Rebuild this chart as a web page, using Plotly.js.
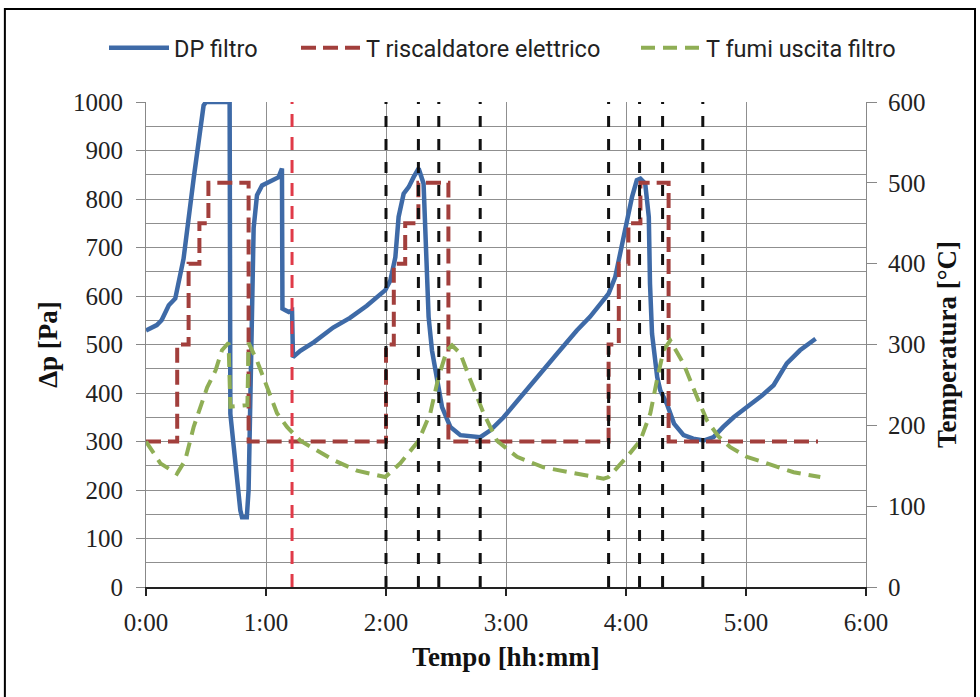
<!DOCTYPE html>
<html>
<head>
<meta charset="utf-8">
<script src="https://cdn.plot.ly/plotly-3.0.1.min.js"></script>
<style>html,body{margin:0;padding:0;background:#fff;}#chart{width:980px;height:697px;}</style>
</head>
<body>
<div id="chart"></div>
<script>
// ---- data (time in hours) ----
const hourTicks = [0, 1, 2, 3, 4, 5, 6];
const hourLabels = ['0:00', '1:00', '2:00', '3:00', '4:00', '5:00', '6:00'];

// DP filtro [Pa]
const timeDP = [0, 0.09, 0.13, 0.19, 0.244, 0.313, 0.397, 0.438, 0.48, 0.5, 0.697, 0.703, 0.73, 0.758, 0.786, 0.80, 0.84, 0.855, 0.87, 0.883, 0.897, 0.925, 0.967, 1.05, 1.105, 1.133, 1.137, 1.19, 1.217, 1.225, 1.286, 1.4, 1.56, 1.7, 1.84, 1.994, 2.036, 2.078, 2.105, 2.147, 2.19, 2.23, 2.272, 2.313, 2.33, 2.355, 2.383, 2.425, 2.467, 2.536, 2.62, 2.786, 2.87, 2.98, 3.12, 3.26, 3.425, 3.59, 3.70, 3.81, 3.855, 3.91, 3.967, 4.008, 4.05, 4.09, 4.12, 4.16, 4.19, 4.2, 4.217, 4.26, 4.286, 4.34, 4.40, 4.48, 4.56, 4.647, 4.73, 4.81, 4.897, 5.008, 5.12, 5.23, 5.34, 5.45, 5.58];
const dpFiltro = [529, 540, 550, 581, 595, 677, 842, 924, 993, 1000, 1000, 357, 289, 206, 158, 144, 144, 200, 380, 533, 740, 808, 828, 838, 845, 863, 574, 567, 570, 474, 487, 505, 535, 555, 580, 612, 632, 680, 763, 811, 825, 845, 863, 832, 694, 557, 488, 426, 371, 330, 313, 309, 323, 350, 392, 433, 481, 529, 557, 591, 605, 639, 708, 763, 804, 839, 842, 832, 763, 625, 522, 433, 405, 378, 337, 313, 306, 302, 309, 330, 350, 371, 392, 416, 461, 488, 512];

// T riscaldatore elettrico [°C]
const timeHeater = [0, 0.26, 0.26, 0.355, 0.355, 0.445, 0.445, 0.52, 0.52, 0.855, 0.855, 2.0, 2.0, 2.065, 2.065, 2.16, 2.16, 2.27, 2.27, 2.52, 2.52, 3.855, 3.855, 3.94, 3.94, 4.02, 4.02, 4.12, 4.12, 4.355, 4.355, 5.6];
const tHeater = [180, 180, 300, 300, 400, 400, 450, 450, 500, 500, 180, 180, 300, 300, 400, 400, 450, 450, 500, 500, 180, 180, 300, 300, 400, 400, 450, 450, 500, 500, 180, 180];

// T fumi uscita filtro [°C]
const timeGas = [0, 0.12, 0.258, 0.327, 0.397, 0.453, 0.51, 0.58, 0.633, 0.688, 0.703, 0.845, 0.855, 0.925, 1.008, 1.092, 1.175, 1.286, 1.563, 1.758, 1.994, 2.119, 2.272, 2.369, 2.438, 2.508, 2.55, 2.619, 2.703, 2.813, 2.925, 3.092, 3.313, 3.592, 3.813, 3.855, 4.008, 4.119, 4.203, 4.258, 4.313, 4.369, 4.48, 4.592, 4.675, 4.772, 4.869, 5.008, 5.203, 5.397, 5.619];
const tGas = [180, 153, 140, 157, 198, 221, 247, 268, 293, 302, 223, 225, 302, 280, 247, 215, 198, 181, 157, 144, 136, 153, 181, 215, 260, 293, 299, 289, 256, 215, 181, 161, 148, 140, 134, 136, 161, 181, 215, 256, 293, 305, 276, 235, 206, 186, 173, 161, 151, 142, 136];

// vertical reference lines
const eventTimes = [2.0, 2.27, 2.44, 2.785, 3.855, 4.113, 4.305, 4.64];
const heaterOffTimes = [1.217];

const seriesNames = ['DP filtro', 'T riscaldatore elettrico', 'T fumi uscita filtro'];

// ---- styling ----
const serif = 'Liberation Serif, Times New Roman, serif';
const gridC = '#8f8f8f';

const traces = [
  {x: timeDP, y: dpFiltro, name: seriesNames[0], type: 'scatter', mode: 'lines', yaxis: 'y',
   line: {color: '#3e6aa7', width: 4.5}, legendwidth: 117},
  {x: timeHeater, y: tHeater, name: seriesNames[1], type: 'scatter', mode: 'lines', yaxis: 'y2',
   line: {color: '#a23f3c', width: 4, dash: '15px,7px'}, legendwidth: 265},
  {x: timeGas, y: tGas, name: seriesNames[2], type: 'scatter', mode: 'lines', yaxis: 'y2',
   line: {color: '#8fae55', width: 4, dash: '14px,8px'}}
];

const shapes = [];
eventTimes.forEach(t => shapes.push({type: 'line', xref: 'x', yref: 'y', x0: t, x1: t, y0: 0, y1: 1000,
  line: {color: '#111', width: 3, dash: '11px,12px'}, layer: 'above'}));
heaterOffTimes.forEach(t => shapes.push({type: 'line', xref: 'x', yref: 'y', x0: t, x1: t, y0: 0, y1: 1000,
  line: {color: '#e03a48', width: 3, dash: '13px,10px'}, layer: 'above'}));
// outer frame
shapes.push({type: 'rect', xref: 'paper', yref: 'paper', x0: -0.196, x1: 1.1514, y0: -0.3, y1: 1.1918,
  line: {color: '#000', width: 2}, fillcolor: 'rgba(0,0,0,0)', layer: 'below'});

const layout = {
  width: 980, height: 697,
  margin: {l: 146, r: 114, t: 102, b: 110},
  paper_bgcolor: '#fff', plot_bgcolor: '#fff',
  showlegend: true,
  legend: {orientation: 'h', xref: 'paper', yref: 'paper', x: (104 - 146) / 720, xanchor: 'left',
           y: (587 - 26) / 485, yanchor: 'top', itemwidth: 60, bgcolor: 'rgba(0,0,0,0)',
           font: {family: 'Roboto, Liberation Sans, sans-serif', size: 23.5, color: '#222'}},
  xaxis: {range: [0, 6], tickmode: 'array', tickvals: hourTicks, ticktext: hourLabels,
          showgrid: true, gridcolor: gridC, gridwidth: 1, zeroline: false,
          showline: true, linecolor: '#222', linewidth: 2,
          ticks: 'outside', ticklen: 7, tickwidth: 1.5, tickcolor: '#222',
          tickfont: {family: serif, size: 25, color: '#222'}, ticklabelstandoff: 5,
          title: {text: 'Tempo [hh:mm]', font: {family: serif, size: 27, color: '#111', weight: 'bold'}, standoff: 12}},
  yaxis: {range: [0, 1000], tickmode: 'linear', tick0: 0, dtick: 100,
          showgrid: true, gridcolor: gridC, gridwidth: 1, zeroline: false,
          minor: {dtick: 50, showgrid: true, gridcolor: gridC, gridwidth: 1, ticks: ''},
          showline: true, linecolor: '#888', linewidth: 1,
          ticks: 'outside', ticklen: 9, tickcolor: '#888', tickwidth: 1,
          tickfont: {family: serif, size: 25, color: '#222'}, ticklabelstandoff: 8,
          title: {text: 'Δp [Pa]', font: {family: serif, size: 27, color: '#111', weight: 'bold'}, standoff: 7}},
  yaxis2: {range: [0, 600], tickmode: 'linear', tick0: 0, dtick: 100, overlaying: 'y', side: 'right',
           showgrid: false, zeroline: false, showline: true, linecolor: '#888', linewidth: 1,
           ticks: 'outside', ticklen: 10, tickcolor: '#888', tickwidth: 1,
           tickfont: {family: serif, size: 25, color: '#222'}, ticklabelstandoff: 6,
           title: {text: 'Temperatura [°C]', font: {family: serif, size: 27, color: '#111', weight: 'bold'}, standoff: 12}},
  shapes: shapes
};

Plotly.newPlot('chart', traces, layout, {displayModeBar: false, staticPlot: true});
</script>
</body>
</html>
